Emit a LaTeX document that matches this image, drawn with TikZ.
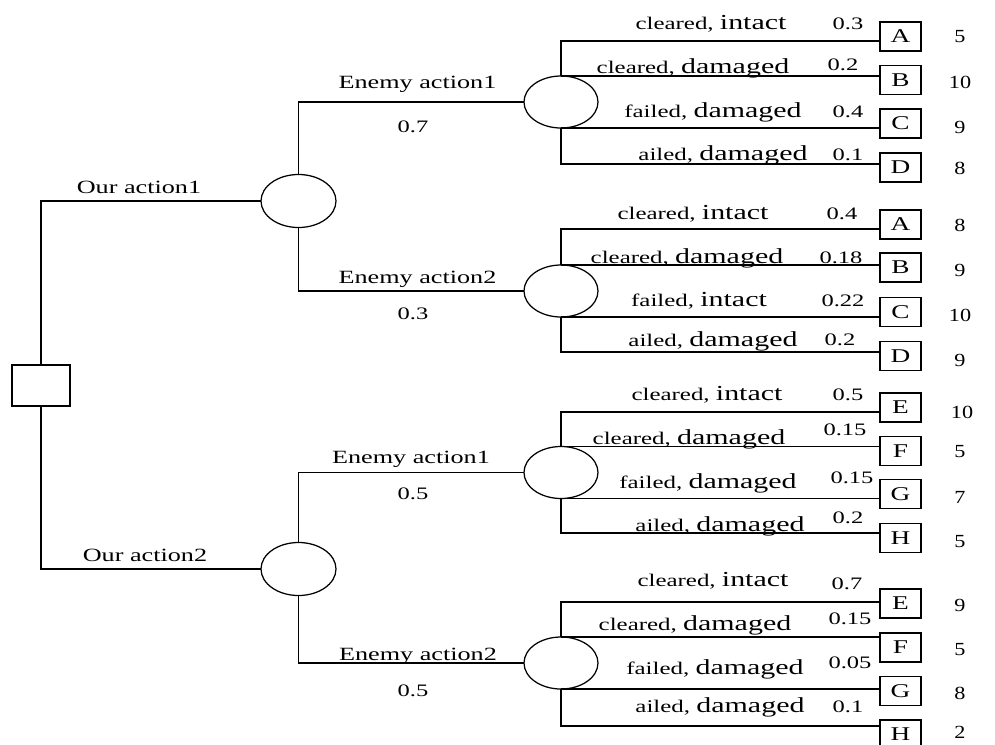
\documentclass[tikz,border=0pt]{standalone}
\usepackage{fontspec}
\setmainfont{Liberation Serif}[FakeStretch=1.4]
\newfontfamily\payfam{Liberation Serif}[FakeStretch=1.2]
\usetikzlibrary{shapes.geometric}
\newcommand{\smf}{\fontsize{17.8}{20}\selectfont}
\newcommand{\bgf}{\fontsize{21.4}{24}\selectfont}
\newcommand{\lb}[2]{{\smf #1\ }{\bgf #2}}
\tikzset{
  chance/.style={ellipse, draw, minimum width=74pt, minimum height=52pt, inner sep=0pt, outer sep=0pt},
  decision/.style={rectangle, draw, minimum width=58pt, minimum height=41pt, inner sep=0pt, outer sep=0pt},
  leaf/.style={rectangle, draw, minimum width=41pt, minimum height=29pt, inner sep=0pt, outer sep=0pt, font=\fontsize{19.5}{22}\selectfont},
  pay/.style={inner sep=0pt, font=\payfam\fontsize{18.5}{21}\selectfont},
  lbl/.style={anchor=base, inner sep=0pt, font=\smf},
  prob/.style={anchor=base, inner sep=0pt, font=\fontsize{17.5}{20}\selectfont},
  act/.style={anchor=base, inner sep=0pt, font=\fontsize{18.7}{22}\selectfont}
}
\begin{document}
\begin{tikzpicture}[x=1pt, y=-1pt, line width=1.25pt]
\useasboundingbox (0,0) rectangle (995,744);
% decision and chance nodes
\node[decision] (root) at (41,385.5) {};
\node[chance, minimum width=75pt, minimum height=53pt] (c1) at (298.5,201) {};
\node[chance, minimum width=75pt, minimum height=53pt] (c2) at (298.5,569) {};
\node[chance] (c11) at (561,102) {};
\node[chance] (c12) at (561,291) {};
\node[chance] (c21) at (561,472.5) {};
\node[chance] (c22) at (561,663) {};
% first level
\draw (root.north) |- (c1.west);
\draw (root.south) |- (c2.west);
\node[act] (oa1) at (139,193) {Our action1};
\node[act] (oa2) at (145,561) {Our action2};
% second level
\draw (c1.north) |- (c11.west);
\draw (c1.south) |- (c12.west);
\draw (c2.north) |- (c21.west);
\draw (c2.south) |- (c22.west);
\node[act] (ea11) at (417.5,88) {Enemy action1};
\node[prob] (pe11) at (413,132) {0.7};
\node[act] (ea12) at (417.5,283) {Enemy action2};
\node[prob] (pe12) at (413,319) {0.3};
\node[act] (ea21) at (411,463) {Enemy action1};
\node[prob] (pe21) at (413,499) {0.5};
\node[act] (ea22) at (418,660) {Enemy action2};
\node[prob] (pe22) at (413,696) {0.5};
% group 1
\node[leaf] (a1) at (900.5,36.5) {A};
\node[leaf] (b1) at (900.5,80) {B};
\node[leaf] (k1) at (900.5,123.5) {C};
\node[leaf] (d1) at (900.5,167.5) {D};
\draw (c11.north) |- ([yshift=-4.5pt]a1.west);
\draw (c11.north) -- (c11.north -| b1.west);
\draw (c11.south) -- (c11.south -| k1.west);
\draw (c11.south) |- ([yshift=3.5pt]d1.west);
\node[pay] (va1) at (960,36.5) {5};
\node[pay] (vb1) at (960,82) {10};
\node[pay] (vk1) at (960,127) {9};
\node[pay] (vd1) at (960,168) {8};
\node[lbl] (la1) at (711,29) {\lb{cleared,}{intact}};
\node[prob] (qa1) at (848,29) {0.3};
\node[lbl] (lb1) at (693,73) {\lb{cleared,}{damaged}};
\node[prob] (qb1) at (843,70) {0.2};
\node[lbl] (lk1) at (713,117) {\lb{failed,}{damaged}};
\node[prob] (qk1) at (848,117) {0.4};
\node[lbl] (ld1) at (723,160) {\lb{ailed,}{damaged}};
\node[prob] (qd1) at (848,160) {0.1};
% group 2
\node[leaf] (a2) at (900.5,224.5) {A};
\node[leaf] (b2) at (900.5,267.5) {B};
\node[leaf] (k2) at (900.5,312) {C};
\node[leaf] (d2) at (900.5,356) {D};
\draw (c12.north) |- ([yshift=-4.5pt]a2.west);
\draw (c12.north) -- (c12.north -| b2.west);
\draw (c12.south) -- (c12.south -| k2.west);
\draw (c12.south) |- ([yshift=4pt]d2.west);
\node[pay] (va2) at (960,225) {8};
\node[pay] (vb2) at (960,270) {9};
\node[pay] (vk2) at (960,315) {10};
\node[pay] (vd2) at (960,360) {9};
\node[lbl] (la2) at (693,219) {\lb{cleared,}{intact}};
\node[prob] (qa2) at (842,219) {0.4};
\node[lbl] (lb2) at (687,263) {\lb{cleared,}{damaged}};
\node[prob] (qb2) at (841,263) {0.18};
\node[lbl] (lk2) at (699,306) {\lb{failed,}{intact}};
\node[prob] (qk2) at (843,306) {0.22};
\node[lbl] (ld2) at (713,346) {\lb{ailed,}{damaged}};
\node[prob] (qd2) at (840,345) {0.2};
% group 3
\node[leaf] (e3) at (900.5,407.5) {E};
\node[leaf] (f3) at (900.5,451) {F};
\node[leaf] (g3) at (900.5,494) {G};
\node[leaf] (h3) at (900.5,538) {H};
\draw (c21.north) |- ([yshift=-4.5pt]e3.west);
\draw (c21.north) -- (c21.north -| f3.west);
\draw (c21.south) -- (c21.south -| g3.west);
\draw (c21.south) |- ([yshift=5pt]h3.west);
\node[pay] (ve3) at (962,412) {10};
\node[pay] (vf3) at (960,452) {5};
\node[pay] (vg3) at (960,497) {7};
\node[pay] (vh3) at (960,542) {5};
\node[lbl] (le3) at (707,400) {\lb{cleared,}{intact}};
\node[prob] (qe3) at (848,400) {0.5};
\node[lbl] (lf3) at (689,444) {\lb{cleared,}{damaged}};
\node[prob] (qf3) at (845,435) {0.15};
\node[lbl] (lg3) at (708,488) {\lb{failed,}{damaged}};
\node[prob] (qg3) at (852,483) {0.15};
\node[lbl] (lh3) at (720,531) {\lb{ailed,}{damaged}};
\node[prob] (qh3) at (848,523) {0.2};
% group 4
\node[leaf] (e4) at (900.5,603.5) {E};
\node[leaf] (f4) at (900.5,647.5) {F};
\node[leaf] (g4) at (900.5,691) {G};
\node[leaf] (h4) at (900.5,734.5) {H};
\draw (c22.north) |- ([yshift=1.5pt]e4.west);
\draw (c22.north) -- (c22.north -| f4.west);
\draw (c22.south) -- (c22.south -| g4.west);
\draw (c22.south) |- ([yshift=8.5pt]h4.west);
\node[pay] (ve4) at (960,605) {9};
\node[pay] (vf4) at (960,650) {5};
\node[pay] (vg4) at (960,693) {8};
\node[pay] (vh4) at (960,732) {2};
\node[lbl] (le4) at (713,586) {\lb{cleared,}{intact}};
\node[prob] (qe4) at (847,589) {0.7};
\node[lbl] (lf4) at (695,630) {\lb{cleared,}{damaged}};
\node[prob] (qf4) at (850,624) {0.15};
\node[lbl] (lg4) at (715,674) {\lb{failed,}{damaged}};
\node[prob] (qg4) at (850,668) {0.05};
\node[lbl] (lh4) at (720,712) {\lb{ailed,}{damaged}};
\node[prob] (qh4) at (848,712) {0.1};
\end{tikzpicture}
\end{document}
